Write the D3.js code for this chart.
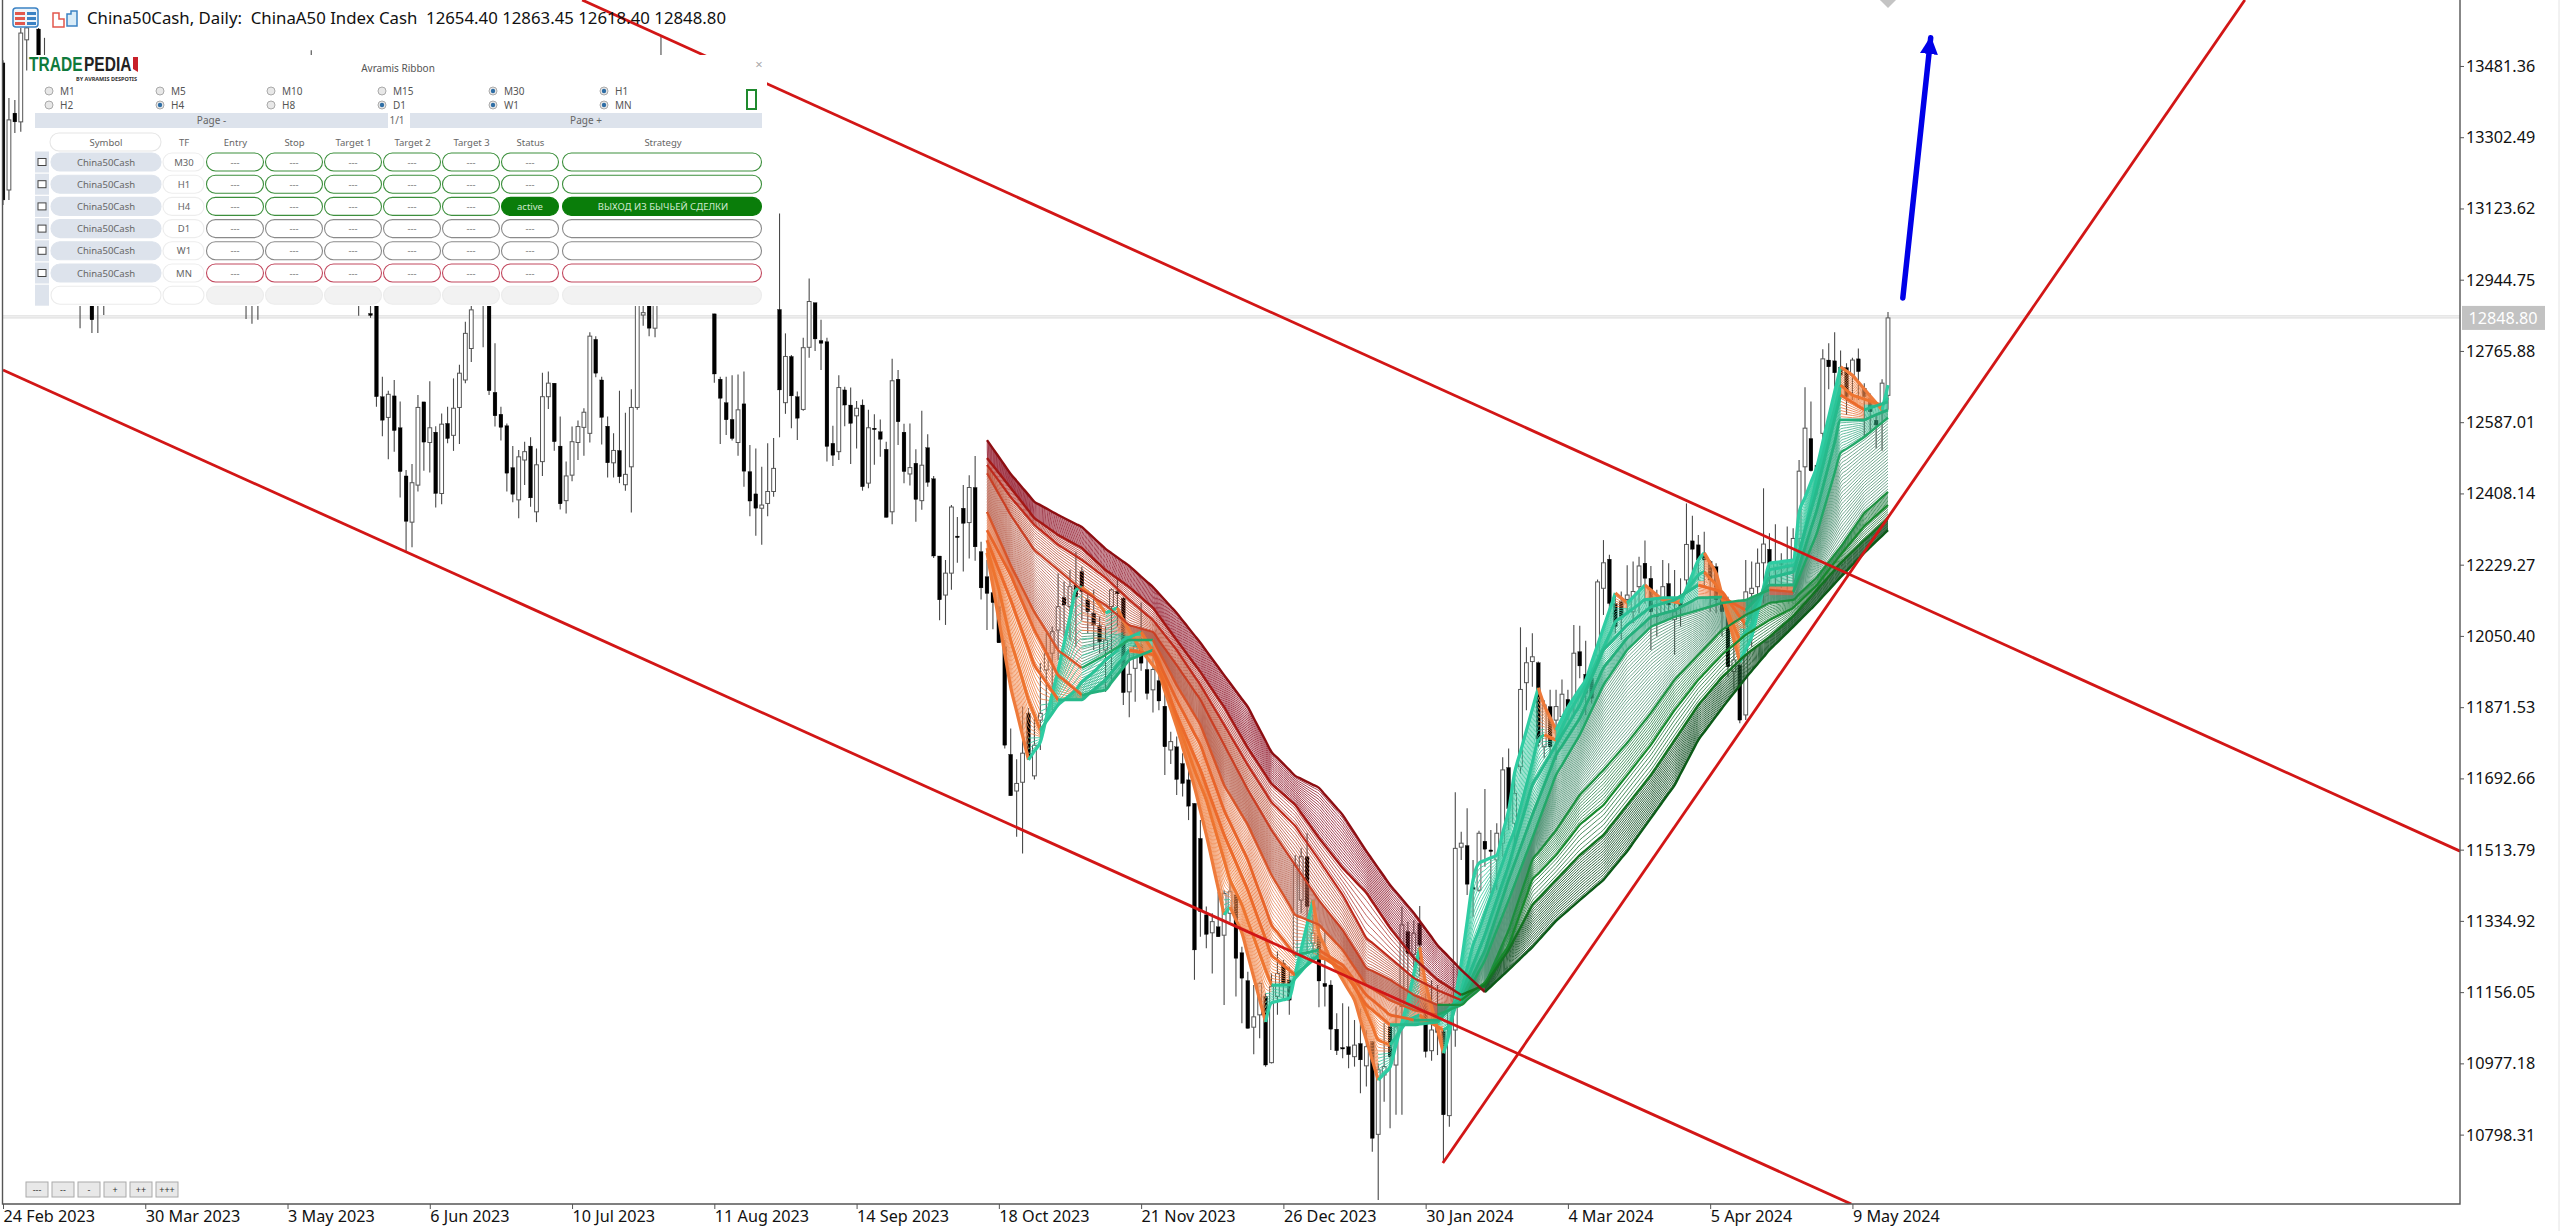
<!DOCTYPE html>
<html>
<head>
<meta charset="utf-8">
<script src="https://cdn.jsdelivr.net/npm/d3@7"></script>
<style>
  html, body { margin: 0; background: #fff; }
  svg { display: block; }
  text { font-family: "Noto Sans", sans-serif; }
</style>
</head>
<body>
<script>
const chartTitle = "China50Cash, Daily:  ChinaA50 Index Cash  12654.40 12863.45 12618.40 12848.80";
const lastPrice = 12848.80;
const priceTicks = [13481.36,13302.49,13123.62,12944.75,12765.88,12587.01,12408.14,12229.27,12050.40,11871.53,11692.66,11513.79,11334.92,11156.05,10977.18,10798.31];
const dateLabels = ["24 Feb 2023","30 Mar 2023","3 May 2023","6 Jun 2023","10 Jul 2023","11 Aug 2023","14 Sep 2023","18 Oct 2023","21 Nov 2023","26 Dec 2023","30 Jan 2024","4 Mar 2024","5 Apr 2024","9 May 2024"];
const dateTickBars = [0,24,48,72,96,120,144,168,192,216,240,264,288,312];

// bars hidden completely behind the panel are left out
const barNumbers = [0,1,2,3,4,6,7,13,15,16,17,41,42,43,52,60,62,...d3.range(63,80),...d3.range(81,112),...d3.range(120,319)];

const highs = [
  13496,13401,13396,13577,13584,13577,13552,13000,13000,12950,12950,13000,13000,13000,13521,13000,12900,
  13100,12701,12666,12693,12639,12467,12482,12655,12638,12690,12577,12609,12626,12697,12731,12839,12910,
  13100,13050,12785,12626,12584,12527,12517,12538,12549,12521,12711,12714,12685,12601,12488,12576,12591,12622,12813,12803,12701,12601,12559,12666,12611,12670,13000,12900,13000,13000,13554,
  12859,12701,12701,12705,12707,12714,12530,12521,12475,12534,
  12547,13111,12810,12756,12664,12799,12948,12887,12844,12799,
  12578,12705,12676,12674,12640,12644,12618,12607,12594,12538,
  12746,12718,12583,12584,12519,12616,12557,12452,12251,12241,
  12379,12349,12429,12454,12502,12287,12241,12207,12174,12040,
  11818,11741,11873,11869,11856,11982,12057,12074,12208,12187,
  12216,12262,12224,12166,12166,12099,12074,12170,12191,12149,
  12007,12040,12134,12007,12023,11990,11923,11810,11798,11756,
  11722,11630,11588,11371,11354,11408,11412,11438,11400,11270,
  11207,11174,11182,11153,11203,11258,11237,11220,11500,11517,
  11555,11350,11320,11308,11186,11103,11128,11120,11086,11115,
  11061,11032,10977,11078,11078,11120,11371,11333,11337,11372,
  11153,11186,11174,11061,11128,11658,11559,11618,11488,11561,
  11666,11563,11580,11746,11768,11705,12072,12022,12057,11986,
  11889,11915,11915,11941,11915,12078,12076,12038,11973,12192,
  12291,12254,12153,12162,12228,12237,12249,12290,12226,12166,
  12241,12233,12216,12195,12383,12352,12304,12312,12241,12233,
  12149,12149,12074,11982,12241,12237,12270,12421,12308,12331,
  12258,12325,12321,12492,12675,12639,12480,12770,12785,12813,
  12767,12735,12749,12772,12685,12659,12609,12695,12863.45];
const opens = [
  13489,13170,13363,13341,13547,13574,13480,12950,12950,12920,12920,12950,12950,12950,13400,12950,12860,
  13050,12651,12599,12653,12573,12452,12336,12429,12638,12536,12562,12408,12584,12554,12624,12693,12772,
  13050,13000,12662,12607,12578,12473,12392,12492,12527,12362,12488,12651,12685,12527,12390,12454,12536,12574,12559,12795,12693,12577,12485,12516,12430,12475,12624,12856,12950,12823,13400,
  12859,12695,12636,12594,12536,12633,12463,12407,12371,12383,
  12413,12870,12636,12752,12651,12619,12775,12887,12792,12789,
  12534,12513,12668,12630,12603,12630,12434,12572,12563,12519,
  12362,12695,12562,12457,12484,12390,12523,12445,12251,12153,
  12208,12301,12371,12335,12423,12262,12199,12159,12124,12023,
  11753,11661,11683,11856,11699,11839,11965,12007,12065,12147,
  12124,12178,12212,12141,12107,12076,12015,12124,12162,12145,
  11910,11969,12028,11966,11915,11938,11874,11764,11772,11730,
  11689,11630,11542,11350,11305,11320,11299,11354,11400,11255,
  11185,11068,11099,11145,10979,11145,11228,11186,11249,11387,
  11496,11279,11299,11178,11174,11063,11017,11019,10994,11027,
  10971,11032,10799,10948,11069,10973,11120,11308,11251,11329,
  11128,11009,11069,11057,10846,11061,11520,11524,11419,11412,
  11535,11513,11488,11530,11720,11580,11722,11933,11986,11983,
  11772,11873,11839,11848,11891,11881,12011,11954,11944,12002,
  12170,12243,12132,12136,12142,12111,12174,12233,12195,12103,
  12107,12182,12092,12147,12191,12289,12279,12254,12237,12224,
  12141,12099,11961,11977,11852,12157,12174,12234,12268,12223,
  12233,12229,12224,12295,12475,12546,12479,12559,12743,12741,
  12725,12724,12705,12746,12672,12647,12592,12634,12654.40];
const closes = [
  13145,13346,13341,13564,13577,13446,13450,12900,12844,12890,12880,12900,12900,12900,13300,12900,12855,
  12651,12592,12657,12566,12463,12338,12435,12624,12537,12573,12408,12582,12546,12622,12710,12810,12869,
  12900,12666,12603,12574,12459,12406,12500,12513,12397,12480,12651,12685,12538,12382,12452,12538,12576,12612,12803,12710,12599,12485,12516,12450,12456,12624,12950,12862,12823,12950,13300,
  12708,12647,12593,12546,12618,12464,12389,12371,12379,12413,
  12471,12668,12752,12653,12597,12774,12890,12796,12785,12526,
  12504,12674,12630,12584,12622,12425,12573,12569,12544,12348,
  12691,12588,12463,12473,12393,12479,12436,12251,12141,12208,
  12374,12299,12333,12423,12274,12171,12157,12134,12033,11776,
  11649,11680,11756,11747,11776,11856,12007,12061,12124,12128,
  12174,12149,12162,12111,12078,12036,12040,12166,12156,11908,
  11954,12025,11982,11906,11966,11887,11772,11785,11690,11680,
  11623,11262,11358,11301,11333,11295,11404,11408,11241,11191,
  11065,11094,11178,10973,11170,11203,11178,11136,11475,11496,
  11371,11304,11184,11170,11063,11009,11014,10999,11023,10986,
  11019,10789,10961,10969,10994,11069,11325,11253,11304,11274,
  11007,11061,11055,10848,11120,11517,11530,11427,11414,11555,
  11515,11509,11555,11714,11617,11655,11916,11983,11998,11782,
  11877,11772,11873,11904,11852,12007,11975,11906,11894,12186,
  12234,12132,12074,12099,12153,12162,12226,12195,12111,12099,
  12174,12128,12111,12124,12280,12268,12241,12241,12191,12141,
  12111,11973,11990,11839,12161,12170,12233,12281,12233,12233,
  12229,12223,12295,12464,12572,12465,12467,12746,12726,12711,
  12705,12651,12743,12714,12651,12613,12580,12685,12848.80];
const lows = [
  13132,13145,13313,13316,13470,13400,13400,12823,12811,12811,12856,12846,12834,12844,13200,12854,12849,
  12626,12552,12494,12513,12398,12262,12273,12413,12465,12461,12373,12381,12534,12515,12532,12685,12738,
  12775,12655,12576,12541,12413,12386,12346,12429,12375,12336,12452,12620,12515,12368,12358,12439,12492,12503,12536,12700,12531,12448,12448,12434,12415,12360,12618,12829,12803,12800,13200,
  12686,12532,12555,12541,12503,12425,12351,12302,12279,12351,
  12400,12549,12608,12572,12542,12616,12749,12766,12718,12488,
  12477,12492,12577,12482,12521,12415,12421,12480,12500,12348,
  12331,12530,12434,12428,12337,12367,12425,12246,12090,12078,
  12166,12234,12212,12245,12239,12142,12065,12067,12033,11768,
  11649,11546,11504,11739,11690,11764,11848,11864,11990,12048,
  12040,12023,12090,12057,12015,12007,11910,11931,12074,11877,
  11846,11885,11963,11891,11858,11864,11701,11729,11651,11647,
  11588,11187,11295,11266,11203,11295,11124,11333,11145,11078,
  11065,11000,11040,10969,10977,11099,11136,11099,11245,11354,
  11253,11253,11118,11120,11011,10998,10990,10965,10969,10902,
  10919,10755,10634,10881,10814,10848,10848,11103,11220,11195,
  10992,10984,10998,10730,10818,11019,11488,11400,11345,11408,
  11471,11404,11412,11496,11563,11530,11705,11864,11923,11772,
  11743,11743,11739,11806,11839,11856,11944,11852,11881,11990,
  12103,12115,12057,12040,12107,12082,12107,12132,12015,12049,
  12103,12107,12003,12074,12166,12191,12191,12174,12111,12107,
  12049,11948,11915,11831,11839,12023,12107,12132,12174,12174,
  12170,12166,12174,12274,12404,12463,12404,12500,12670,12676,
  12651,12605,12643,12643,12551,12559,12521,12515,12618.40];

const ribbonBars = d3.range(166, 319, 4);
const ribbon0 = [12542,12457,12387,12354,12324,12269,12226,12173,12108,12033,11952,11872,11759,11699,11669,11601,11510,11425,11355,11274,11212,11156,11212,11269,11335,11387,11438,11510,11593,11676,11789,11869,11945,12015,12073,12133,12198,12259,12316];
const ribbon1 = [12497,12422,12346,12304,12271,12216,12173,12121,12040,11960,11872,11769,11679,11626,11543,11468,11405,11317,11242,11187,11149,11174,11262,11375,11438,11500,11551,11626,11701,11789,11877,11947,12003,12048,12100,12166,12233,12291,12346];
const ribbon2 = [12480,12399,12329,12279,12241,12196,12141,12090,12015,11927,11827,11726,11633,11573,11488,11400,11292,11242,11192,11161,11136,11181,11274,11438,11500,11576,11626,11701,11777,11864,11940,12003,12053,12090,12121,12178,12254,12326,12379];
const ribbon3 = [12459,12354,12266,12216,12166,12128,12078,12060,11977,11890,11777,11664,11563,11475,11387,11312,11217,11187,11149,11124,11124,11174,11312,11488,11563,11651,11714,11782,11857,11940,12003,12065,12103,12133,12141,12198,12274,12359,12412];
const ribbon4 = [12362,12228,12110,12015,11970,12003,12040,12040,11927,11827,11676,11576,11450,11350,11325,11262,11174,11136,11111,11099,11124,11237,11387,11543,11701,11802,11927,12015,12073,12098,12115,12133,12141,12166,12161,12309,12510,12550,12598];
const ribbon5 = [12316,12203,12065,11952,11902,11915,11990,12015,11890,11777,11613,11488,11325,11249,11262,11224,11149,11099,11086,11086,11136,11262,11438,11601,11751,11844,11970,12045,12098,12115,12146,12148,12115,12178,12178,12367,12593,12593,12618];
const ribbon6 = [12291,12141,11977,11890,11890,11940,12015,12003,11852,11714,11551,11412,11249,11199,11249,11212,11124,11074,11074,11081,11149,11300,11475,11676,11777,11877,12015,12078,12123,12141,12178,12161,12078,12196,12211,12417,12655,12618,12638];
// the two fastest lines turn often, so they are read at their own turning points
const fastBars = [166,168,170,173,175,178,181,182,184,186,188,189,192,195,198,201,203,206,207,209,213,214,217,221,222,224,228,232,234,237,239,240,243,244,246,248,249,252,254,255,259,260,262,264,267,272,274,277,280,283,286,287,289,293,295,298,302,303,306,310,312,317,318];
const ribbon7 = [12271,12166,12040,11890,11814,11877,11915,11935,11960,11990,12015,12040,12060,11990,11839,11714,11638,11488,11438,11375,11212,11174,11174,11242,11242,11237,11174,11036,11023,11086,11099,11086,11061,11074,11161,11274,11312,11438,11525,11563,11789,11802,11789,11852,11927,12085,12108,12141,12146,12146,12203,12211,12178,12040,12078,12216,12228,12254,12447,12680,12655,12630,12648];
const ribbon8 = [12259,12090,11922,11739,11784,11965,12166,12173,12148,12108,12121,12090,12015,11957,11822,11671,11551,11350,11370,11305,11081,11129,11141,11387,11305,11237,11136,10935,10968,11136,11269,11179,11003,11053,11229,11438,11480,11500,11613,11706,11920,11877,11814,11872,11940,12158,12133,12178,12141,12133,12241,12259,12208,11985,12048,12233,12241,12359,12475,12726,12705,12618,12680];

// trend lines, as bar number and price at each end
const upperChannelBars = [97.7, 414.5], upperChannelPrices = [13647, 11510];
const lowerChannelBars = [0, 311.8], lowerChannelPrices = [12718, 10624];
const supportBars = [242.9, 378.2], supportPrices = [10727, 13647];
const arrowBars = [320.5, 325.2], arrowPrices = [12899, 13552];

// panel text
const radioLabels = ["M1","M5","M10","M15","M30","H1","H2","H4","H8","D1","W1","MN"];
const radioChecked = ["M30","H1","H4","D1","W1","MN"];
const panelHeaders = ["Entry","Stop","Target 1","Target 2","Target 3","Status"];
const panelTimeframes = ["M30","H1","H4","D1","W1","MN"];
const panelTone = ["up","up","up","flat","flat","down"];
const zoomButtons = ["---","--","-","+","++","+++"];

const width = 2560, height = 1231, axisX = 2460, axisY = 1204;
const x = d3.scaleLinear().domain([0, 318]).range([3, 1888]);
const y = d3.scaleLinear().domain([13647, 10624.1]).range([0, axisY]);

const svg = d3.select("body").append("svg").attr("width", width).attr("height", height);
svg.append("clipPath").attr("id", "plot").append("rect")
  .attr("x", 3).attr("y", 0).attr("width", axisX - 3).attr("height", axisY);
const plot = svg.append("g").attr("clip-path", "url(#plot)");

// last price line
[0, 2].forEach(d => plot.append("line")
  .attr("x1", 0).attr("x2", axisX)
  .attr("y1", y(lastPrice) - 2 + d).attr("y2", y(lastPrice) - 2 + d)
  .attr("stroke", "#d6d6d6").attr("stroke-width", 1));

// candles
const candles = barNumbers.map((bar, k) => ({bar, open: opens[k], high: highs[k], low: lows[k], close: closes[k]}));
const candle = plot.append("g").selectAll("g").data(candles).enter().append("g");
candle.append("line")
  .attr("x1", d => x(d.bar)).attr("x2", d => x(d.bar))
  .attr("y1", d => y(d.high)).attr("y2", d => y(d.low))
  .attr("stroke", "#4a4a4a").attr("stroke-width", 1.1);
candle.append("rect")
  .attr("x", d => x(d.bar) - 1.9).attr("width", 3.8)
  .attr("y", d => y(Math.max(d.open, d.close)))
  .attr("height", d => Math.max(1.5, Math.abs(y(d.open) - y(d.close))))
  .attr("fill", d => d.close >= d.open ? "#fff" : "#000")
  .attr("stroke", d => d.close >= d.open ? "#555" : "#000")
  .attr("stroke-width", d => d.close >= d.open ? 1 : 0.3);

// ribbon
const guides = [ribbon0, ribbon1, ribbon2, ribbon3, ribbon4, ribbon5, ribbon6].map(v => d3.scaleLinear().domain(ribbonBars).range(v));
guides.push(d3.scaleLinear().domain(fastBars).range(ribbon7));
guides.push(d3.scaleLinear().domain(fastBars).range(ribbon8));

const everyBar = d3.range(166, 319);
const ribbonLine = d3.line().x(d => x(d.bar)).y(d => y(d.price)).curve(d3.curveMonotoneX);

// split a line at its turns: red and orange going down, green going up
function drawSeries(layer, series, falling, rising, lineWidth, opacity) {
  let run = [series[0]], up = series[1].price >= series[0].price;
  const flush = () => layer.append("path")
    .attr("d", ribbonLine(run)).attr("fill", "none")
    .attr("stroke", up ? rising : falling)
    .attr("stroke-width", lineWidth).attr("stroke-opacity", opacity)
    .attr("stroke-linejoin", "round");
  for (let i = 1; i < series.length; i++) {
    const nowUp = series[i].price >= series[i - 1].price;
    if (nowUp !== up && i > 1) {
      flush();
      run = [series[i - 1]];
      up = nowUp;
    }
    run.push(series[i]);
  }
  flush();
}

// fine hatching between two neighbouring read lines: blended from them, not read one by one
const bands = [
  {count: 16, falling: "#9a2c3e", rising: "#1f5a30", lineWidth: 1, opacity: 0.9},
  {count: 5,  falling: "#b03a34", rising: "#207239", lineWidth: 0.9, opacity: 0.9},
  {count: 9,  falling: "#bb4f38", rising: "#258044", lineWidth: 0.9, opacity: 0.9},
  {count: 24, falling: "#b9614e", rising: "#4a8f70", lineWidth: 0.8, opacity: 1},
  {count: 10, falling: "#e0764a", rising: "#34a87f", lineWidth: 0.8, opacity: 0.95},
  {count: 7,  falling: "#ea7b45", rising: "#35b98f", lineWidth: 0.9, opacity: 0.95},
  {count: 8,  falling: "#ee8247", rising: "#36c096", lineWidth: 0.9, opacity: 0.95},
  {count: 10, falling: "#f08a50", rising: "#3cc9a0", lineWidth: 0.9, opacity: 0.95}
];
const boldLines = [
  {falling: "#8e0e12", rising: "#0b5a17", lineWidth: 2.4},
  {falling: "#a51815", rising: "#127321", lineWidth: 2.4},
  {falling: "#bf2a1b", rising: "#178a2e", lineWidth: 2.2},
  {falling: "#c93f24", rising: "#1b8f3e", lineWidth: 2.2},
  {falling: "#d8552a", rising: "#21a868", lineWidth: 2.4},
  {falling: "#e8642a", rising: "#24b07c", lineWidth: 2.8},
  {falling: "#ec6a2b", rising: "#26ba8c", lineWidth: 3},
  {falling: "#ee742f", rising: "#2ac498", lineWidth: 3},
  {falling: "#ee7a3a", rising: "#2ecda3", lineWidth: 3.2}
];

const ribbonLayer = plot.append("g");
bands.forEach((band, k) => {
  d3.range(1, band.count + 1).forEach(j => {
    const t = j / (band.count + 1);
    const series = everyBar.map(bar => ({bar, price: d3.interpolateNumber(guides[k](bar), guides[k + 1](bar))(t)}));
    drawSeries(ribbonLayer, series, band.falling, band.rising, band.lineWidth, band.opacity);
  });
});
d3.range(8, -1, -1).forEach(k => {
  const series = everyBar.map(bar => ({bar, price: guides[k](bar)}));
  drawSeries(ribbonLayer, series, boldLines[k].falling, boldLines[k].rising, boldLines[k].lineWidth, 1);
});

// trend lines
[[upperChannelBars, upperChannelPrices], [lowerChannelBars, lowerChannelPrices], [supportBars, supportPrices]].forEach(([bars, prices]) => {
  plot.append("line")
    .attr("x1", x(bars[0])).attr("y1", y(prices[0]))
    .attr("x2", x(bars[1])).attr("y2", y(prices[1]))
    .attr("stroke", "#d21616").attr("stroke-width", 2.8);
});

// blue arrow and the grey mark above the last bar
svg.append("defs").append("marker").attr("id", "head")
  .attr("viewBox", "0 0 10 10").attr("refX", 9).attr("refY", 5)
  .attr("markerUnits", "userSpaceOnUse").attr("markerWidth", 18).attr("markerHeight", 18)
  .attr("orient", "auto")
  .append("path").attr("d", "M0,0L10,5L0,10Z").attr("fill", "#0000e8");
plot.append("line")
  .attr("x1", x(arrowBars[0])).attr("y1", y(arrowPrices[0]))
  .attr("x2", x(arrowBars[1])).attr("y2", y(arrowPrices[1]))
  .attr("stroke", "#0000e8").attr("stroke-width", 5.5).attr("stroke-linecap", "round")
  .attr("marker-end", "url(#head)");
plot.append("path")
  .attr("d", d3.symbol(d3.symbolSquare, 340)())
  .attr("transform", "translate(" + x(318) + ",-5) rotate(45)")
  .attr("fill", "#c4c4c4");

// axes
const fontAxis = "16.2px";
const axisRight = svg.append("g").attr("transform", "translate(" + axisX + ",0)")
  .call(d3.axisRight(y).tickValues(priceTicks).tickFormat(d3.format(".2f")).tickSize(4).tickPadding(2));
axisRight.selectAll("text").style("font-size", fontAxis).attr("fill", "#111").attr("dy", "0.34em");
axisRight.selectAll("line").attr("stroke", "#555");
axisRight.select(".domain").remove();

const axisBottom = svg.append("g").attr("transform", "translate(0," + axisY + ")")
  .call(d3.axisBottom(x).tickValues(dateTickBars).tickFormat((d, i) => dateLabels[i]).tickSize(5).tickPadding(4));
axisBottom.selectAll("text").style("font-size", fontAxis).attr("fill", "#111").attr("text-anchor", "start").attr("dy", "0.55em");
axisBottom.selectAll("line").attr("stroke", "#555");
axisBottom.select(".domain").remove();

svg.append("path").attr("fill", "none").attr("stroke", "#555").attr("stroke-width", 1.4)
  .attr("d", "M" + axisX + ",0V" + axisY + "H2.5V0");
svg.append("line").attr("x1", width - 1).attr("x2", width - 1).attr("y1", 0).attr("y2", height).attr("stroke", "#e4e4e4");

svg.append("rect").attr("x", axisX + 2).attr("y", y(lastPrice) - 12).attr("width", 83).attr("height", 24).attr("fill", "#c2c2c2");
svg.append("text").attr("x", axisX + 43).attr("y", y(lastPrice) + 6).attr("text-anchor", "middle")
  .style("font-size", fontAxis).attr("fill", "#fff").text(d3.format(".2f")(lastPrice));

// header icons and title
const icons = svg.append("g");
icons.append("rect").attr("x", 13).attr("y", 8).attr("width", 25).attr("height", 19).attr("rx", 3).attr("fill", "#eef4fa").attr("stroke", "#3b82c4").attr("stroke-width", 1.5);
[12, 17, 22].forEach(d => {
  icons.append("rect").attr("x", 15).attr("y", d).attr("width", 10).attr("height", 3).attr("fill", "#e2574c");
  icons.append("rect").attr("x", 27).attr("y", d).attr("width", 9).attr("height", 3).attr("fill", "#3b82c4");
});
icons.append("path").attr("d", "M53,13h6v6h5v8h-11z").attr("fill", "#fff").attr("stroke", "#e2574c").attr("stroke-width", 1.5);
icons.append("path").attr("d", "M67,14h4v-3h6v15h-10z").attr("fill", "#d9ecf8").attr("stroke", "#3b82c4").attr("stroke-width", 1.5);
svg.append("text").attr("x", 87).attr("y", 24).style("font-size", "17px").style("white-space", "pre")
  .attr("fill", "#111").attr("textLength", 639).attr("lengthAdjust", "spacingAndGlyphs").text(chartTitle);

// panel sits on top of the chart
const panel = svg.append("g");
panel.append("rect").attr("x", 28).attr("y", 55).attr("width", 739).attr("height", 251).attr("fill", "#fff");

[["TRADE", 29, "#0f7a3c"], ["PEDIA", 84, "#222"]].forEach(([label, left, color]) => {
  panel.append("text").attr("transform", "translate(" + left + ",71) scale(0.74,1)")
    .style("font-family", "'Liberation Sans'").style("font-weight", 700).style("font-size", "21px")
    .attr("fill", color).text(label);
});
panel.append("path").attr("d", "M133,57h5v15l-5,-3z").attr("fill", "#c8202a");
panel.append("text").attr("x", 137).attr("y", 81).attr("text-anchor", "end").style("font-size", "5.5px").style("font-weight", 700).attr("fill", "#333").text("BY AVRAMIS DESPOTIS");
panel.append("text").attr("x", 398).attr("y", 72).attr("text-anchor", "middle").style("font-size", "10px").attr("fill", "#555").text("Avramis Ribbon");
panel.append("text").attr("x", 759).attr("y", 69).attr("text-anchor", "middle").style("font-size", "13px").attr("fill", "#aaa").text("×");

const radioX = d3.scalePoint().domain(d3.range(6)).range([49, 604]);
const radio = panel.selectAll("g.radio").data(radioLabels).enter().append("g")
  .attr("transform", (d, i) => "translate(" + radioX(i % 6) + "," + (i < 6 ? 91 : 105) + ")");
radio.append("circle").attr("r", 4).attr("fill", "#e8e8e8").attr("stroke", "#aaa");
radio.filter(d => radioChecked.includes(d)).append("circle").attr("r", 2.2).attr("fill", "#2f6ea5");
radio.append("text").attr("x", 11).attr("y", 3.5).style("font-size", "10px").attr("fill", "#555").text(d => d);
panel.append("rect").attr("x", 747).attr("y", 90).attr("width", 9).attr("height", 19).attr("fill", "none").attr("stroke", "#1f8a2e").attr("stroke-width", 2);

[["Page -", 35, 353], ["Page +", 410, 352]].forEach(([label, left, w]) => {
  panel.append("rect").attr("x", left).attr("y", 113).attr("width", w).attr("height", 15).attr("fill", "#dde3ec");
  panel.append("text").attr("x", left + w / 2).attr("y", 124).attr("text-anchor", "middle").style("font-size", "10px").attr("fill", "#666").text(label);
});
panel.append("text").attr("x", 397).attr("y", 124).attr("text-anchor", "middle").style("font-size", "10px").attr("fill", "#666").text("1/1");

function pill(left, w, cy, fill, stroke) {
  panel.append("rect").attr("x", left).attr("y", cy - 9).attr("width", w).attr("height", 18).attr("rx", 9)
    .attr("fill", fill).attr("stroke", stroke).attr("stroke-width", 1.1);
}
function panelText(cx, cy, label, color) {
  panel.append("text").attr("x", cx).attr("y", cy + 3.5).attr("text-anchor", "middle")
    .style("font-size", "9.5px").attr("fill", color).text(label);
}

const cellLeft = i => 206.5 + 59 * i;
pill(50, 111, 142, "#fff", "#e6e6e6");
panelText(106, 142, "Symbol", "#666");
panelText(184, 142, "TF", "#666");
panelHeaders.forEach((h, i) => panelText(cellLeft(i) + 29, 142, h, "#666"));
panelText(663, 142, "Strategy", "#666");

const toneStroke = {up: "#3c8f3c", flat: "#8a8a8a", down: "#c2485e"};
const rowY = i => 162 + 22.2 * i;
panelTimeframes.forEach((tf, r) => {
  const cy = rowY(r), stroke = toneStroke[panelTone[r]];
  panel.append("rect").attr("x", 35).attr("y", cy - 10.5).attr("width", 14).attr("height", 21).attr("fill", "#dde3ec");
  panel.append("rect").attr("x", 38).attr("y", cy - 3.5).attr("width", 8).attr("height", 7).attr("fill", "#fff").attr("stroke", "#444");
  pill(51, 110, cy, "#dde3ec", "#dde3ec");
  panelText(106, cy, "China50Cash", "#666");
  pill(163, 41, cy, "#fff", "#ededed");
  panelText(184, cy, tf, "#666");
  panelHeaders.forEach((h, i) => {
    const active = r === 2 && h === "Status";
    pill(cellLeft(i), 57, cy, active ? "#0a7d0a" : "#fff", active ? "#0a7d0a" : stroke);
    panelText(cellLeft(i) + 28.5, cy, active ? "active" : "---", active ? "#cfe8cf" : "#777");
  });
  const exit = r === 2;
  pill(562.5, 199, cy, exit ? "#0a7d0a" : "#fff", exit ? "#0a7d0a" : stroke);
  if (exit) panelText(663, cy, "ВЫХОД ИЗ БЫЧЬЕЙ СДЕЛКИ", "#cfe8cf");
});
const lastRow = rowY(6);
panel.append("rect").attr("x", 35).attr("y", lastRow - 10.5).attr("width", 14).attr("height", 21).attr("fill", "#dde3ec");
pill(51, 110, lastRow, "#fff", "#ececec");
pill(163, 41, lastRow, "#fff", "#ececec");
panelHeaders.forEach((h, i) => pill(cellLeft(i), 57, lastRow, "#f2f2f2", "#ececec"));
pill(562.5, 199, lastRow, "#f2f2f2", "#ececec");

// zoom buttons bottom left
const zoomButton = svg.append("g").selectAll("g").data(zoomButtons).enter().append("g")
  .attr("transform", (d, i) => "translate(" + (26 + 26 * i) + ",1182)");
zoomButton.append("rect").attr("width", 22).attr("height", 15).attr("fill", "#e8e8e8").attr("stroke", "#aaa");
zoomButton.append("text").attr("x", 11).attr("y", 11).attr("text-anchor", "middle").style("font-size", "9px").attr("fill", "#333").text(d => d);
</script>
</body>
</html>
